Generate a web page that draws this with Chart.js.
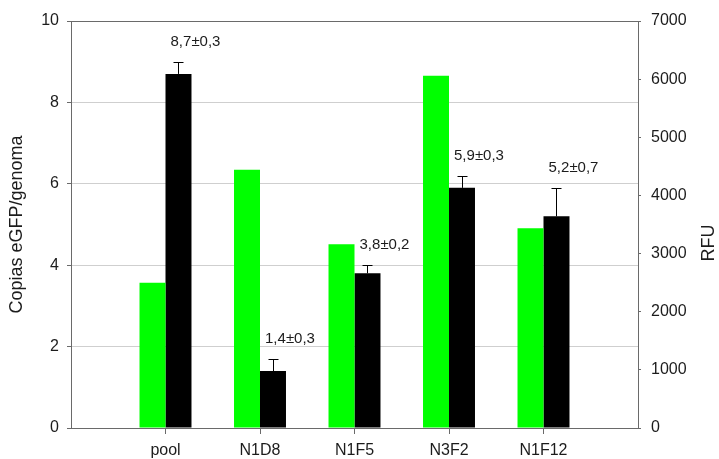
<!DOCTYPE html>
<html>
<head>
<meta charset="utf-8">
<script src="https://cdn.jsdelivr.net/npm/chart.js@4"></script>
<style>
  html, body { margin: 0; padding: 0; background: #ffffff; }
  canvas { display: block; }
</style>
</head>
<body>
<canvas id="chart" width="719" height="459"></canvas>
<script>
// Clones and their measurements
const categories = ['pool', 'N1D8', 'N1F5', 'N3F2', 'N1F12'];
const copias = [8.7, 1.4, 3.8, 5.9, 5.2];        // eGFP copies per genome
const copiasErr = [0.3, 0.3, 0.2, 0.3, 0.7];     // standard deviation
const rfu = [2500, 4440, 3160, 6060, 3435];      // fluorescence (RFU)
const leftTicks = [0, 2, 4, 6, 8, 10];
const rightTicks = [0, 1000, 2000, 3000, 4000, 5000, 6000, 7000];

const AXIS = '#6a6a6a';
const GRID = '#cfcfcf';
const TEXT = '#1c1c1c';
const FONT = "'Liberation Sans', Arial, sans-serif";

// one empty slot on each side of the groups
const labels = ['', ...categories, ''];
const pad = arr => [null, ...arr, null];

const fmt = v => v.toFixed(1).replace('.', ',');

const errorBars = {
  id: 'errorBars',
  afterDatasetsDraw(chart) {
    const ctx = chart.ctx;
    const meta = chart.getDatasetMeta(1);
    const yScale = chart.scales.y;
    ctx.save();
    meta.data.forEach((bar, i) => {
      const k = i - 1;
      if (k < 0 || k >= copias.length) return;
      const top = yScale.getPixelForValue(copias[k] + copiasErr[k]);
      const base = yScale.getPixelForValue(copias[k]);
      const x = Math.round(bar.x) + 0.5;
      ctx.strokeStyle = '#000000';
      ctx.lineWidth = 1;
      ctx.beginPath();
      ctx.moveTo(x, base);
      ctx.lineTo(x, Math.round(top) + 0.5);
      ctx.moveTo(x - 5, Math.round(top) + 0.5);
      ctx.lineTo(x + 5, Math.round(top) + 0.5);
      ctx.stroke();
      // value ± deviation above the bar
      ctx.fillStyle = TEXT;
      ctx.font = '15px ' + FONT;
      ctx.textAlign = 'center';
      ctx.textBaseline = 'middle';
      ctx.fillText(fmt(copias[k]) + '\u00b1' + fmt(copiasErr[k]), bar.x + 17, top - 20);
    });
    ctx.restore();
  }
};

// right-hand axis title, written bottom to top
const rightTitle = {
  id: 'rightTitle',
  afterDraw(chart) {
    const ctx = chart.ctx;
    ctx.save();
    ctx.translate(709, 243);
    ctx.rotate(-Math.PI / 2);
    ctx.fillStyle = TEXT;
    ctx.font = '18px ' + FONT;
    ctx.textAlign = 'center';
    ctx.textBaseline = 'middle';
    ctx.fillText('RFU', 0, 0);
    ctx.restore();
  }
};

new Chart(document.getElementById('chart'), {
  type: 'bar',
  data: {
    labels: labels,
    datasets: [
      {
        label: 'RFU',
        data: pad(rfu),
        yAxisID: 'y1',
        backgroundColor: '#00ff00',
        borderWidth: 0,
        categoryPercentage: 0.55,
        barPercentage: 1.0
      },
      {
        label: 'Copias eGFP/genoma',
        data: pad(copias),
        yAxisID: 'y',
        backgroundColor: '#000000',
        borderWidth: 0,
        categoryPercentage: 0.55,
        barPercentage: 1.0
      }
    ]
  },
  options: {
    responsive: false,
    animation: false,
    devicePixelRatio: 1,
    layout: { padding: { top: 21, left: 0, right: 0, bottom: 0 } },
    plugins: {
      legend: { display: false },
      tooltip: { enabled: false }
    },
    scales: {
      x: {
        offset: false,
        grid: {
          offset: false,
          drawOnChartArea: false,
          tickLength: 6,
          tickColor: c => (c.index === 0 || c.index === labels.length - 1) ? 'rgba(0,0,0,0)' : AXIS
        },
        border: { color: AXIS, width: 1 },
        ticks: {
          color: TEXT,
          font: { family: FONT, size: 16 },
          padding: 7,
          maxRotation: 0,
          autoSkip: false
        },
        afterFit: s => { s.height = 31; }
      },
      y: {
        position: 'left',
        min: 0,
        max: 10,
        afterBuildTicks: s => { s.ticks = leftTicks.map(v => ({ value: v })); },
        grid: {
          color: c => c.tick.value === 10 ? AXIS : (c.tick.value === 0 ? 'rgba(0,0,0,0)' : GRID),
          tickColor: AXIS,
          tickLength: 4,
          lineWidth: 1
        },
        border: { color: AXIS, width: 1 },
        ticks: {
          color: TEXT,
          font: { family: FONT, size: 16 },
          padding: 8
        },
        title: {
          display: true,
          text: 'Copias eGFP/genoma',
          color: TEXT,
          font: { family: FONT, size: 18 },
          padding: { top: 6, bottom: 0 }
        },
        afterFit: s => { s.width = 71; }
      },
      y1: {
        position: 'right',
        min: 0,
        max: 7000,
        afterBuildTicks: s => { s.ticks = rightTicks.map(v => ({ value: v })); },
        grid: {
          drawOnChartArea: false,
          tickColor: AXIS,
          tickLength: 3
        },
        border: { color: AXIS, width: 1 },
        ticks: {
          color: TEXT,
          font: { family: FONT, size: 16 },
          padding: 10,
          callback: v => String(v)
        },
        afterFit: s => { s.width = 81; }
      }
    }
  },
  plugins: [errorBars, rightTitle]
});
</script>
</body>
</html>
